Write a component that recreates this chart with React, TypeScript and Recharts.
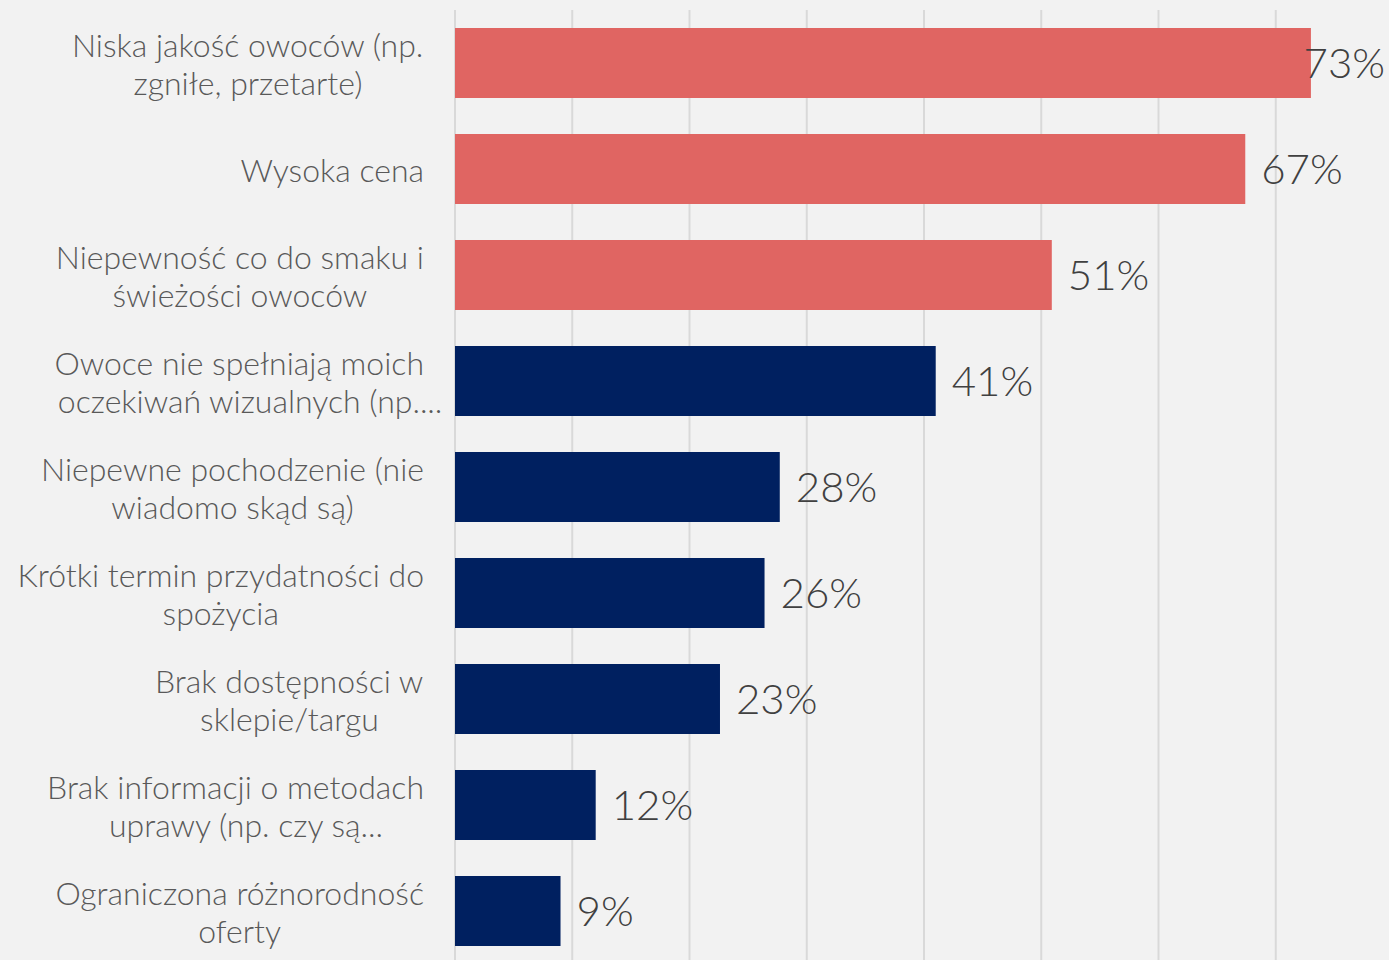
import React from 'react';
import { BarChart, Bar, XAxis, YAxis, CartesianGrid, Cell, LabelList } from 'recharts';

const categories = [
  'Niska jakość owoców (np.\nzgniłe, przetarte)',
  'Wysoka cena',
  'Niepewność co do smaku i\nświeżości owoców',
  'Owoce nie spełniają moich\noczekiwań wizualnych (np....',
  'Niepewne pochodzenie (nie\nwiadomo skąd są)',
  'Krótki termin przydatności do\nspożycia',
  'Brak dostępności w\nsklepie/targu',
  'Brak informacji o metodach\nuprawy (np. czy są...',
  'Ograniczona różnorodność\noferty',
];
// labels show them rounded
const shares = [73.0, 67.4, 50.9, 41.0, 27.7, 26.4, 22.6, 12.0, 9.0];
const gridTicks = [0, 10, 20, 30, 40, 50, 60, 70, 80];

// top answers are highlighted in red
const HIGHLIGHTED = 3;
const RED = '#e06562';
const NAVY = '#002060';

const PAGE_W = 1389;
const PAGE_H = 960;
const TICK_FONT = '300 32px Lato';
const VALUE_FONT = '300 42px Lato';

const data = categories.map((label, i) => ({ label, value: shares[i] }));

let ctx: CanvasRenderingContext2D | null = null;
const measure = (text: string, font: string) => {
  if (!ctx) ctx = document.createElement('canvas').getContext('2d');
  if (!ctx) return text.length * 15;
  ctx.font = font;
  return ctx.measureText(text).width;
};

// Excel centres the lines inside a right-aligned block; a trailing "..." hangs outside
const CategoryTick = (props: any) => {
  const { x, y, payload } = props;
  const lines = String(payload.value).split('\n');
  const core = lines.map((l) => measure(l.replace(/\.\.\.$/, ''), TICK_FONT));
  const block = Math.max(...core);
  const cx = x - block / 2;
  return (
    <g>
      {lines.map((l, i) => (
        <text
          key={i}
          x={cx - core[i] / 2}
          y={y + (i - (lines.length - 1) / 2) * 38}
          textAnchor="start"
          dominantBaseline="central"
          fill="#595959"
          style={{ font: TICK_FONT }}
        >
          {l}
        </text>
      ))}
    </g>
  );
};

const ValueLabel = (props: any) => {
  const { x, y, width, height, value } = props;
  const text = `${Math.round(value)}%`;
  const w = measure(text, VALUE_FONT);
  const lx = Math.min(x + width + 16, PAGE_W - 4 - w);
  return (
    <text x={lx} y={y + height / 2 + 15} fill="#404040" style={{ font: VALUE_FONT }}>
      {text}
    </text>
  );
};

export default function App() {
  return (
    <div
      style={{
        position: 'absolute',
        left: 0,
        top: 0,
        width: PAGE_W,
        height: PAGE_H,
        overflow: 'hidden',
        background: '#f2f2f2',
        fontFamily: 'Lato, sans-serif',
      }}
    >
      <BarChart
        width={1393}
        height={964}
        data={data}
        layout="vertical"
        margin={{ top: 10, right: 0, bottom: 0, left: 0 }}
      >
        <CartesianGrid horizontal={false} stroke="#d9d9d9" strokeWidth={2} />
        <XAxis
          type="number"
          domain={[0, 80]}
          ticks={gridTicks}
          interval={0}
          height={0}
          tick={() => <g />}
          axisLine={false}
          tickLine={false}
        />
        <YAxis
          type="category"
          dataKey="label"
          width={455}
          axisLine={false}
          tickLine={false}
          tickSize={0}
          tickMargin={31}
          interval={0}
          tick={<CategoryTick />}
        />
        <Bar dataKey="value" barSize={70} isAnimationActive={false}>
          {data.map((d, i) => (
            <Cell key={d.label} fill={i < HIGHLIGHTED ? RED : NAVY} />
          ))}
          <LabelList dataKey="value" content={<ValueLabel />} />
        </Bar>
      </BarChart>
    </div>
  );
}
